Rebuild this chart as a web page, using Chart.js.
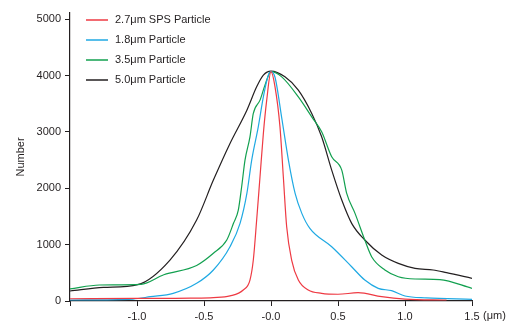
<!DOCTYPE html>
<html>
<head>
<meta charset="utf-8">
<script src="https://cdn.jsdelivr.net/npm/chart.js@4"></script>
<style>
  html, body { margin: 0; padding: 0; background: #fff; }
  #wrap { width: 524px; height: 332px; position: relative; }
</style>
</head>
<body>
<div id="wrap"><canvas id="chart"></canvas></div>
<script>
// particle size distributions, x in µm, y in counts
const labels = ['2.7\u03bcm SPS Particle', '1.8\u03bcm Particle', '3.5\u03bcm Particle', '5.0\u03bcm Particle'];
const colors = ['#ee3a43', '#1fa9e3', '#12a04f', '#231f20'];

const redX = [-1.5, -1.0, -0.6, -0.43, -0.306, -0.207, -0.157, -0.132, -0.107, -0.082, -0.057, -0.032, 0, 0.03, 0.067, 0.092, 0.117, 0.154, 0.204, 0.278, 0.378, 0.5, 0.65, 0.826, 1.0, 1.31];
const redY = [40, 45, 50, 60, 90, 195, 372, 727, 1436, 2204, 2973, 3564, 4070, 3800, 3090, 2204, 1318, 727, 372, 195, 136, 120, 147, 76, 35, 18];

const blueX = [-1.5, -1.03, -0.9, -0.73, -0.555, -0.43, -0.306, -0.231, -0.18, -0.144, -0.095, -0.057, -0.02, 0, 0.03, 0.08, 0.13, 0.18, 0.23, 0.29, 0.453, 0.602, 0.70, 0.80, 0.90, 1.0, 1.16, 1.5];
const blueY = [18, 35, 76, 136, 313, 550, 963, 1378, 1909, 2500, 3090, 3622, 4007, 4070, 3970, 3250, 2500, 1909, 1555, 1289, 963, 608, 372, 225, 183, 89, 55, 30];

const greenX = [-1.5, -1.28, -0.97, -0.8, -0.555, -0.43, -0.33, -0.28, -0.244, -0.219, -0.194, -0.157, -0.132, -0.082, -0.045, 0, 0.08, 0.204, 0.304, 0.378, 0.453, 0.528, 0.565, 0.627, 0.70, 0.751, 0.85, 0.95, 1.075, 1.26, 1.5];
const greenY = [215, 284, 296, 465, 630, 846, 1082, 1378, 1613, 2027, 2500, 2913, 3328, 3564, 3830, 4070, 3977, 3622, 3268, 3002, 2558, 2322, 1909, 1555, 1082, 786, 550, 431, 390, 380, 225];

const blackX = [-1.5, -1.25, -0.995, -0.754, -0.555, -0.43, -0.306, -0.18, -0.107, -0.057, 0, 0.104, 0.204, 0.304, 0.378, 0.453, 0.528, 0.602, 0.70, 0.826, 0.95, 1.075, 1.21, 1.31, 1.5];
const blackY = [177, 240, 290, 727, 1436, 2145, 2796, 3386, 3800, 4007, 4078, 3977, 3741, 3328, 2913, 2322, 1791, 1378, 1082, 816, 668, 580, 550, 502, 402];

const xTicks = [-1.5, -1.0, -0.5, 0, 0.5, 1.0, 1.5];
const yTicks = [0, 1000, 2000, 3000, 4000, 5000];

const FONT = '"Liberation Sans", Arial, sans-serif';
const INK = '#231f20';

function pairs(xs, ys) {
  return xs.map((x, i) => ({ x: x, y: ys[i] }));
}

const seriesX = [redX, blueX, greenX, blackX];
const seriesY = [redY, blueY, greenY, blackY];

const datasets = labels.map((name, i) => ({
  label: name,
  data: pairs(seriesX[i], seriesY[i]),
  borderColor: colors[i],
  borderWidth: 1.2,
  pointRadius: 0,
  cubicInterpolationMode: 'monotone',
  fill: false
}));

// legend drawn inside the plot, top left
const insideLegend = {
  id: 'insideLegend',
  afterDraw(chart) {
    const ctx = chart.ctx;
    ctx.save();
    ctx.font = '11px ' + FONT;
    ctx.textBaseline = 'middle';
    ctx.textAlign = 'left';
    chart.data.datasets.forEach((ds, i) => {
      const y = 20 + i * 20;
      ctx.strokeStyle = ds.borderColor;
      ctx.lineWidth = 1.5;
      ctx.beginPath();
      ctx.moveTo(86, y);
      ctx.lineTo(108, y);
      ctx.stroke();
      ctx.fillStyle = INK;
      ctx.fillText(ds.label, 115, y);
    });
    // unit after last x tick label
    ctx.fillText('(\u03bcm)', 483, 316);
    ctx.restore();
  }
};

new Chart(document.getElementById('chart'), {
  type: 'line',
  data: { datasets: datasets },
  options: {
    responsive: true,
    maintainAspectRatio: false,
    animation: false,
    layout: { padding: { left: 0, right: 52, top: 13, bottom: 0 } },
    plugins: {
      legend: { display: false },
      tooltip: { enabled: false }
    },
    scales: {
      x: {
        type: 'linear',
        min: -1.5,
        max: 1.5,
        afterFit(scale) { scale.height = 31; },
        afterBuildTicks(scale) { scale.ticks = xTicks.map(v => ({ value: v })); },
        grid: { drawOnChartArea: false, drawTicks: true, tickLength: 5, color: INK, lineWidth: 1 },
        border: { display: true, color: INK, width: 1.2 },
        ticks: {
          color: INK,
          font: { family: FONT, size: 11 },
          padding: 4,
          maxRotation: 0,
          autoSkip: false,
          callback(v) {
            if (v === -1.5) return '';
            if (v === 0) return '-0.0';
            return v.toFixed(1);
          }
        }
      },
      y: {
        min: 0,
        max: 5110,
        afterFit(scale) { scale.width = 70; },
        afterBuildTicks(scale) { scale.ticks = yTicks.map(v => ({ value: v })); },
        grid: { drawOnChartArea: false, drawTicks: true, tickLength: 5, color: INK, lineWidth: 1 },
        border: { display: true, color: INK, width: 1.2 },
        title: {
          display: true,
          text: 'Number',
          color: INK,
          font: { family: FONT, size: 11 },
          padding: { top: 14, bottom: 0 }
        },
        ticks: {
          color: INK,
          font: { family: FONT, size: 11 },
          padding: 4,
          callback(v) { return String(v); }
        }
      }
    }
  },
  plugins: [insideLegend]
});
</script>
</body>
</html>
